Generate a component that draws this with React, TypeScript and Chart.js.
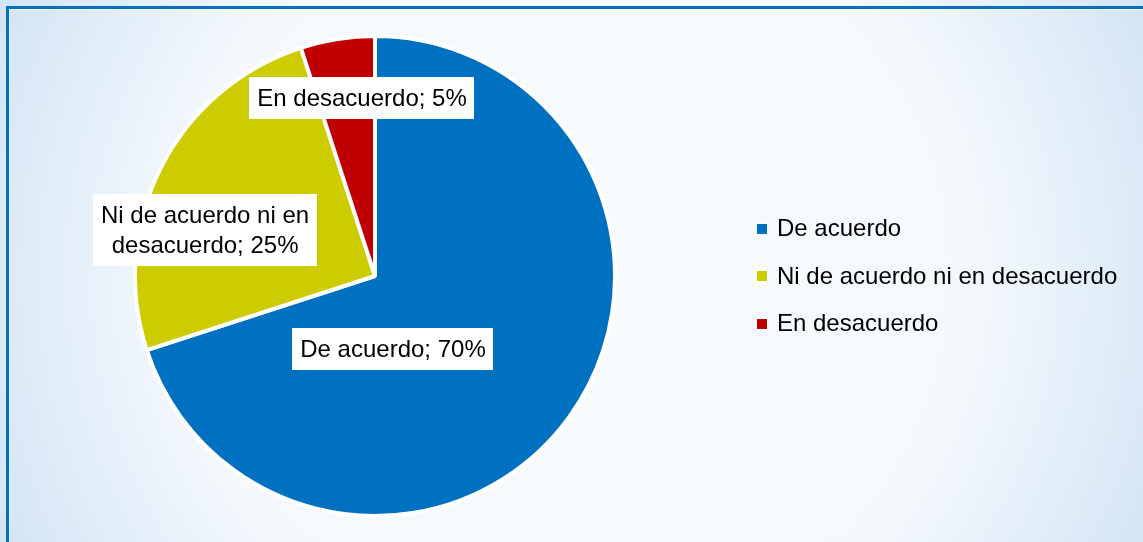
import React, { useEffect, useRef } from "react";
import { Chart, registerables } from "chart.js";

Chart.register(...registerables);

const categories = ["De acuerdo", "Ni de acuerdo ni en desacuerdo", "En desacuerdo"];
const values = [70, 25, 5];
const colors = ["#0070C0", "#CCCC00", "#C00000"];
// label box centres, relative to the pie centre, in units of the outer radius
const labelAnchors = [
  [0.075, 0.305],
  [-0.708, -0.192],
  [-0.054, -0.742],
];

const FONT = "24px 'Liberation Sans', Arial, sans-serif";

function wrap(ctx: CanvasRenderingContext2D, text: string, maxW: number): string[] {
  const words = text.split(" ");
  const lines: string[] = [];
  let cur = "";
  for (const w of words) {
    const t = cur ? cur + " " + w : w;
    if (ctx.measureText(t).width > maxW && cur) {
      lines.push(cur);
      cur = w;
    } else cur = t;
  }
  if (cur) lines.push(cur);
  return lines;
}

const labelPlugin = {
  id: "boxLabels",
  afterDatasetsDraw(chart: any) {
    const ctx: CanvasRenderingContext2D = chart.ctx;
    const meta = chart.getDatasetMeta(0);
    const labels = chart.data.labels as string[];
    const data = chart.data.datasets[0].data as number[];
    ctx.save();
    ctx.font = FONT;
    ctx.textBaseline = "middle";
    ctx.textAlign = "center";
    meta.data.forEach((arc: any, i: number) => {
      const { x, y, outerRadius } = arc.getProps(["x", "y", "outerRadius"], true);
      const cx = x + labelAnchors[i][0] * outerRadius;
      const cy = y + labelAnchors[i][1] * outerRadius;
      const text = `${labels[i]}; ${data[i]}%`;
      const lines = wrap(ctx, text, 212);
      const lh = 30;
      const w = Math.max(...lines.map((l) => ctx.measureText(l).width)) + 16;
      const h = lines.length * lh + 12;
      ctx.fillStyle = "#FFFFFF";
      ctx.fillRect(Math.round(cx - w / 2), Math.round(cy - h / 2), Math.round(w), Math.round(h));
      ctx.fillStyle = "#000000";
      lines.forEach((l, k) => {
        ctx.fillText(l, cx, cy - h / 2 + 6 + lh * k + lh / 2 + 1);
      });
    });
    ctx.restore();
  },
};

const legendPlugin = {
  id: "sideLegend",
  afterDraw(chart: any) {
    const ctx: CanvasRenderingContext2D = chart.ctx;
    const labels = chart.data.labels as string[];
    const bg = chart.data.datasets[0].backgroundColor as string[];
    const x0 = 757;
    const y0 = 228.5;
    const gap = 47.5;
    ctx.save();
    ctx.font = FONT;
    ctx.textBaseline = "middle";
    ctx.textAlign = "left";
    labels.forEach((l, i) => {
      const yc = y0 + i * gap;
      ctx.fillStyle = "#FFFFFF";
      ctx.fillRect(x0 - 1, Math.round(yc - 6), 12, 12);
      ctx.fillStyle = bg[i];
      ctx.fillRect(x0, Math.round(yc - 5), 10, 10);
      ctx.fillStyle = "#000000";
      ctx.fillText(l, 777, yc + 1);
    });
    ctx.restore();
  },
};

export default function App() {
  const ref = useRef<HTMLCanvasElement | null>(null);
  useEffect(() => {
    if (!ref.current) return;
    const chart = new Chart(ref.current, {
      type: "pie",
      data: {
        labels: categories,
        datasets: [
          {
            data: values,
            backgroundColor: colors,
            borderColor: "#FFFFFF",
            borderWidth: 4,
          },
        ],
      },
      options: {
        responsive: false,
        animation: false,
        layout: { padding: { left: 0, right: 393, top: 34, bottom: 24 } },
        plugins: { legend: { display: false }, tooltip: { enabled: false } },
      },
      plugins: [labelPlugin, legendPlugin],
    });
    return () => chart.destroy();
  }, []);

  return (
    <div
      style={{
        position: "fixed",
        left: 0,
        top: 0,
        width: 1143,
        height: 542,
        overflow: "hidden",
        background:
          "radial-gradient(circle at 575px 275px, #f8fbfe 0px, #f5f9fd 390px, #d3e4f4 640px)",
      }}
    >
      <div
        style={{
          position: "absolute",
          left: 6,
          top: 6,
          width: 1200,
          height: 600,
          borderTop: "3px solid #0070C0",
          borderLeft: "3px solid #0070C0",
          boxShadow: "inset 1px 1px 0 rgba(255,255,255,0.7)",
        }}
      />
      <canvas
        ref={ref}
        width={1143}
        height={542}
        style={{ position: "absolute", left: 0, top: 0, width: 1143, height: 542 }}
      />
    </div>
  );
}
